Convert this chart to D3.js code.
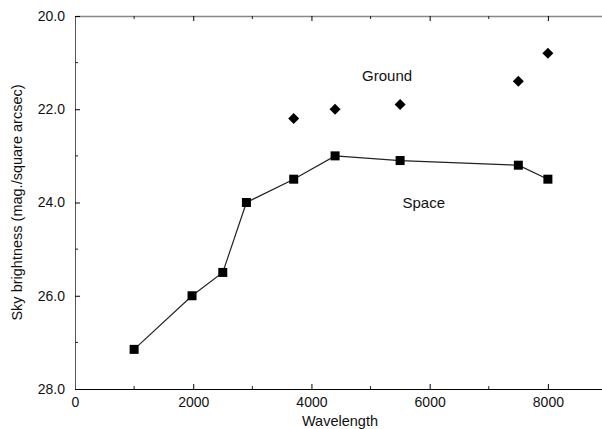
<!DOCTYPE html>
<html>
<head>
<meta charset="utf-8">
<script src="https://cdn.jsdelivr.net/npm/d3@7"></script>
<style>
  body { margin: 0; background: #fff; }
  svg text { font-family: "Liberation Sans", Arial, Helvetica, sans-serif; fill: #111; }
</style>
</head>
<body>
<div id="chart"></div>
<script>
// wavelength (Angstrom) vs sky brightness (mag / square arcsec)
const spaceWave = [1000, 1980, 2500, 2900, 3700, 4400, 5500, 7500, 8000];
const spaceMag = [27.15, 26.0, 25.5, 24.0, 23.5, 23.0, 23.1, 23.2, 23.5];
const groundWave = [3700, 4400, 5500, 7500, 8000];
const groundMag = [22.2, 22.0, 21.9, 21.4, 20.8];
const xTicks = [0, 2000, 4000, 6000, 8000];
const xMinor = [1000, 3000, 5000, 7000, 9000];
const yTicks = [20, 22, 24, 26, 28];
const yMinor = [21, 23, 25, 27];

const W = 602, H = 429;
const margin = { top: 16, left: 75, bottom: 40 };

const x = d3.scaleLinear().domain([0, 9000]).range([margin.left, 607]);
const y = d3.scaleLinear().domain([20, 28]).range([margin.top, H - margin.bottom]);

const svg = d3.select('#chart').append('svg')
  .attr('width', W)
  .attr('height', H);

// bottom axis, ticks pointing inward
const bottomAxis = svg.append('g')
  .attr('transform', `translate(0,${y(28)})`)
  .call(d3.axisBottom(x).tickValues(xTicks).tickSizeInner(-5).tickSizeOuter(0)
    .tickPadding(8).tickFormat(d3.format('d')));
bottomAxis.append('g').selectAll('line').data(xMinor).join('line')
  .attr('x1', d => x(d)).attr('x2', d => x(d))
  .attr('y1', 0).attr('y2', -3)
  .attr('stroke', '#222');

// top axis
const topAxis = svg.append('g')
  .attr('transform', `translate(0,${y(20)})`)
  .call(d3.axisTop(x).tickValues(xTicks).tickSizeInner(-5).tickSizeOuter(0).tickFormat(''));
topAxis.append('g').selectAll('line').data(xMinor).join('line')
  .attr('x1', d => x(d)).attr('x2', d => x(d))
  .attr('y1', 0).attr('y2', 3)
  .attr('stroke', '#222');

// left axis
const leftAxis = svg.append('g')
  .attr('transform', `translate(${margin.left},0)`)
  .call(d3.axisLeft(y).tickValues(yTicks).tickSizeInner(-5).tickSizeOuter(0)
    .tickPadding(10).tickFormat(d3.format('.1f')));
leftAxis.select('.domain').attr('stroke', '#555');
leftAxis.append('g').selectAll('line').data(yMinor).join('line')
  .attr('x1', 0).attr('x2', 3)
  .attr('y1', d => y(d)).attr('y2', d => y(d))
  .attr('stroke', '#222');

svg.selectAll('.tick text')
  .style('font-size', '14px')
  .style('font-family', '"Liberation Sans", Arial, sans-serif')
  .attr('fill', '#111');
svg.selectAll('.domain, .tick line').attr('stroke-width', 1);
topAxis.select('.domain').attr('stroke', '#888').attr('stroke-width', 1.5);

// axis titles
svg.append('text')
  .attr('x', 340).attr('y', 426)
  .attr('text-anchor', 'middle')
  .style('font-size', '14.5px')
  .text('Wavelength');

svg.append('text')
  .attr('transform', `translate(22,${(y(20) + y(28)) / 2}) rotate(-90)`)
  .attr('text-anchor', 'middle')
  .style('font-size', '14.5px')
  .text('Sky brightness (mag./square arcsec)');

// space series: line + squares
const space = spaceWave.map((w, i) => ({ w, m: spaceMag[i] }));
const line = d3.line().x(d => x(d.w)).y(d => y(d.m));

svg.append('path')
  .datum(space)
  .attr('d', line)
  .attr('fill', 'none')
  .attr('stroke', '#222')
  .attr('stroke-width', 1.2);

svg.selectAll('.sq').data(space).join('rect')
  .attr('class', 'sq')
  .attr('x', d => x(d.w) - 4.5)
  .attr('y', d => y(d.m) - 4.5)
  .attr('width', 9).attr('height', 9)
  .attr('fill', '#000');

// ground series: diamonds
const ground = groundWave.map((w, i) => ({ w, m: groundMag[i] }));
svg.selectAll('.dm').data(ground).join('path')
  .attr('class', 'dm')
  .attr('transform', d => `translate(${x(d.w)},${y(d.m)})`)
  .attr('d', 'M0,-5.5L5.5,0L0,5.5L-5.5,0Z')
  .attr('fill', '#000');

// series labels
svg.append('text')
  .attr('x', x(5280)).attr('y', y(21.4))
  .attr('text-anchor', 'middle')
  .style('font-size', '15px')
  .text('Ground');

svg.append('text')
  .attr('x', x(5900)).attr('y', y(24.12))
  .attr('text-anchor', 'middle')
  .style('font-size', '15px')
  .text('Space');
</script>
</body>
</html>
